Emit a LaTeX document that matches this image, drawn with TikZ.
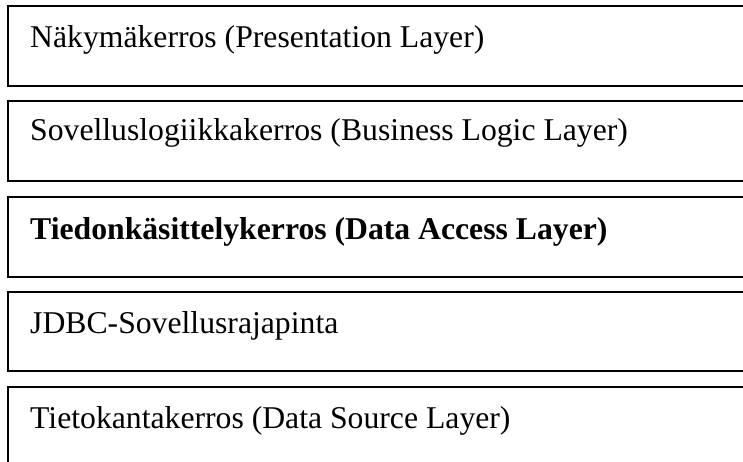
\documentclass[tikz,border=0pt]{standalone}
\usepackage{fontspec}
\setmainfont{Liberation Serif}
\begin{document}
\begin{tikzpicture}[x=1pt, y=-1pt,
    layerbox/.style={draw=black, line width=1.8pt},
    layertext/.style={anchor=base west, inner sep=0pt, font=\fontsize{31.7}{36}\selectfont}]
        \useasboundingbox (0,0) rectangle (743,462);
        \clip (0,0) rectangle (743,462);
        % the five layers, top to bottom
        \draw[layerbox] (8,6) rectangle (760,86);
        \draw[layerbox] (8,101) rectangle (760,181);
        \draw[layerbox] (8,197) rectangle (760,277);
        \draw[layerbox] (8,292) rectangle (760,371);
        \draw[layerbox] (8,387) rectangle (760,480);
        \node[layertext] (presentation) at (30,48) {Näkymäkerros (Presentation Layer)};
        \node[layertext] (business) at (30,141) {Sovelluslogiikkakerros (Business Logic Layer)};
        \node[layertext, font=\fontsize{31.7}{36}\selectfont\bfseries] (dataaccess) at (30,239) {Tiedonkäsittelykerros (Data Access Layer)};
        \node[layertext] (jdbc) at (30,333) {JDBC-Sovellusrajapinta};
        \node[layertext] (datasource) at (30,428) {Tietokantakerros (Data Source Layer)};
\end{tikzpicture}
\end{document}
